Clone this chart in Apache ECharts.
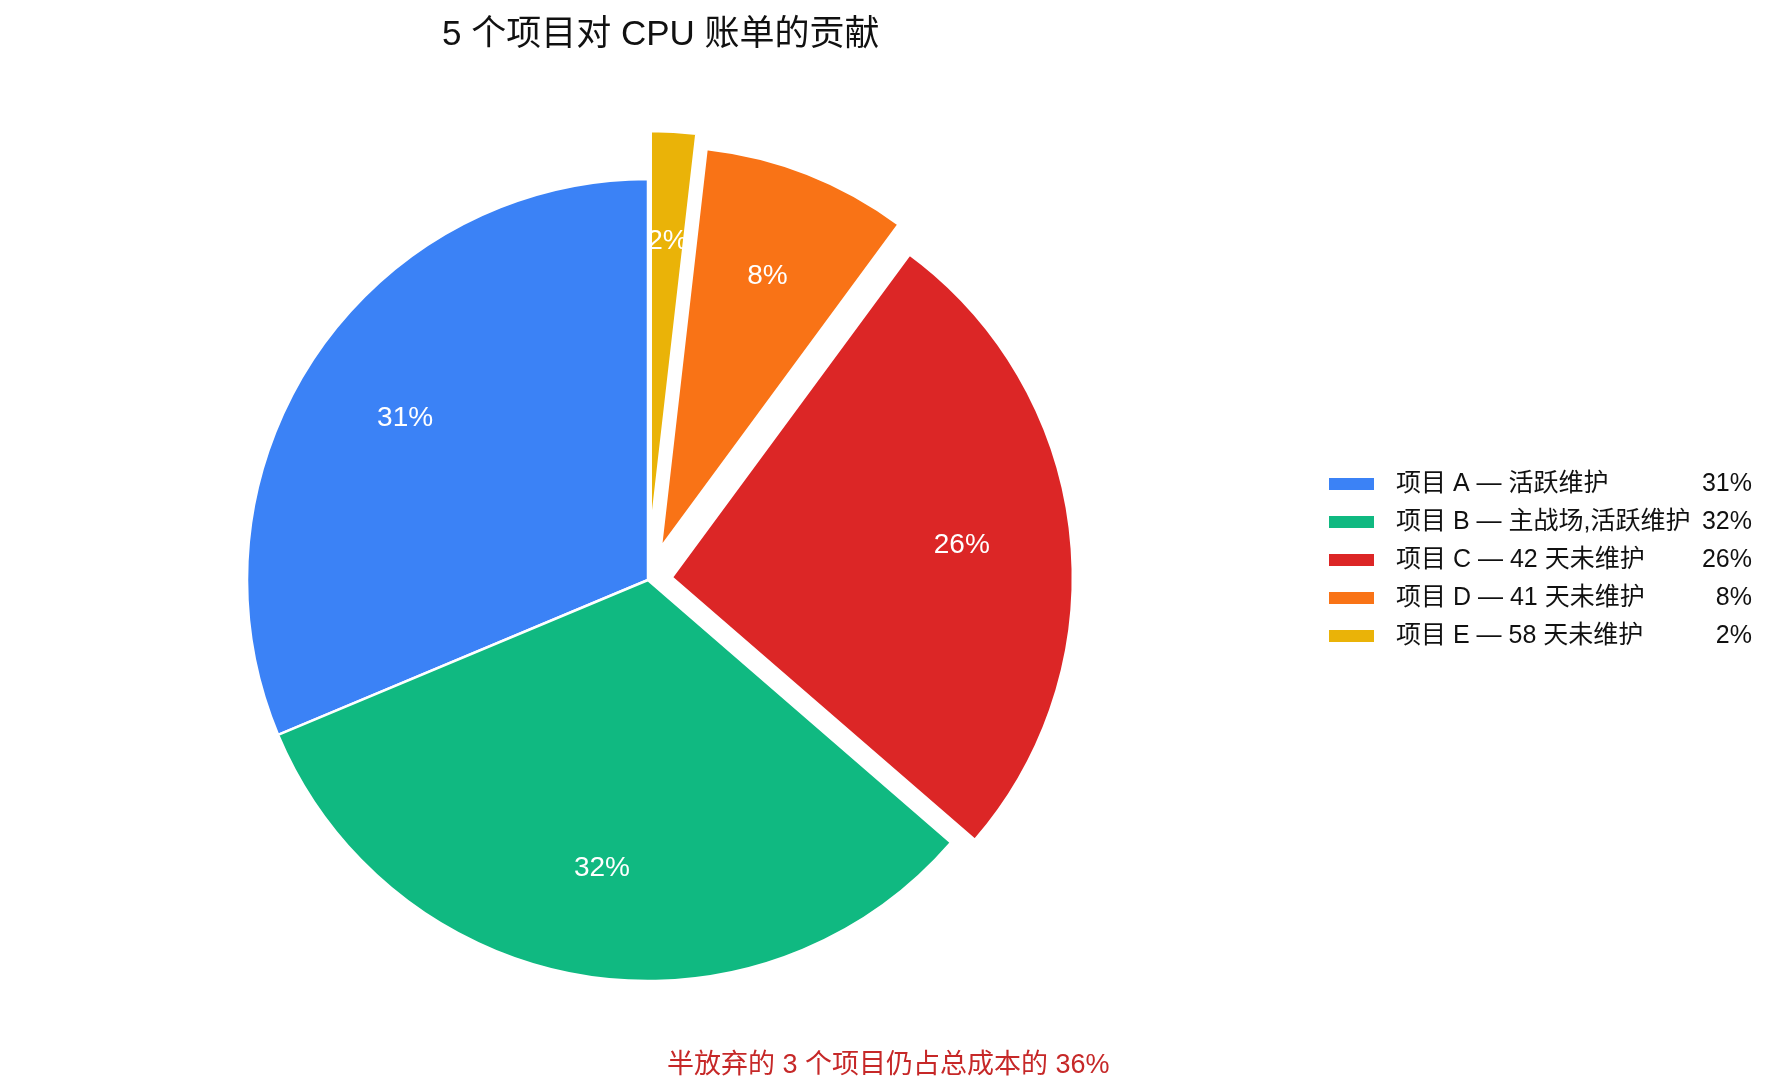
<!DOCTYPE html>
<html>
<head>
<meta charset="utf-8">
<title>5 个项目对 CPU 账单的贡献</title>
<script src="https://cdn.jsdelivr.net/npm/echarts@6/dist/echarts.min.js"></script>
<style>
html, body { margin: 0; padding: 0; background: #fff; }
#main { width: 1785px; height: 1091px; }
</style>
</head>
<body>
<div id="main"></div>
<script>
// 数据
var names = ['项目 A — 活跃维护', '项目 B — 主战场,活跃维护', '项目 C — 42 天未维护', '项目 D — 41 天未维护', '项目 E — 58 天未维护'];
var shares = [31, 32, 26, 8.2, 1.8];

// 样式
var colors = ['#3b82f6', '#10b981', '#dc2626', '#f97316', '#eab308'];
var pullOut = [0, 0, 24, 35, 48];   // 每块扇区拉出的距离 (px)
var font = "'Liberation Sans', 'Noto Sans CJK SC', sans-serif";
var center = [648, 580];
var R = 401;

function pct(v) { return Math.round(v) + '%'; }

var myChart = echarts.init(document.getElementById('main'));

// 每个拉出距离做一组: 一层扇区 + 一层只放标签的环
var groups = [];
pullOut.forEach(function (o) { if (groups.indexOf(o) < 0) groups.push(o); });

var series = [];
groups.forEach(function (off) {
    function inGroup(i) { return pullOut[i] === off; }
    var base = {
        type: 'pie',
        center: center,
        startAngle: 90,
        clockwise: false,
        selectedMode: 'multiple',
        selectedOffset: off,
        silent: true,
        animation: false,
        emphasis: { disabled: true },
        labelLine: { show: false }
    };
    series.push(Object.assign({}, base, {
        radius: [0, R],
        label: { show: false },
        data: names.map(function (n, i) {
            return {
                name: n,
                value: shares[i],
                selected: off > 0 && inGroup(i),
                itemStyle: inGroup(i)
                    ? { color: colors[i], borderColor: '#fff', borderWidth: 2.5 }
                    : { color: 'rgba(0,0,0,0)', borderWidth: 0 }
            };
        })
    }));
    series.push(Object.assign({}, base, {
        radius: [R * 0.44, R],
        itemStyle: { color: 'rgba(0,0,0,0)', borderWidth: 0 },
        label: {
            position: 'inside',
            color: '#fff',
            fontSize: 28,
            fontFamily: font,
            formatter: function (p) { return pct(p.value); }
        },
        data: names.map(function (n, i) {
            return {
                name: n,
                value: shares[i],
                selected: off > 0 && inGroup(i),
                label: { show: inGroup(i) }
            };
        })
    }));
});

var option = {
    backgroundColor: '#fff',
    title: [{
        text: '5 个项目对 CPU 账单的贡献',
        left: 437,
        top: 13,
        textStyle: { color: '#111', fontSize: 35, fontWeight: 'normal', fontFamily: font }
    }, {
        text: '半放弃的 3 个项目仍占总成本的 36%',
        left: 662,
        top: 1047,
        textStyle: { color: '#c62828', fontSize: 27, fontWeight: 'normal', fontFamily: font }
    }],
    legend: {
        orient: 'vertical',
        left: 1324,
        top: 465,
        icon: 'rect',
        itemWidth: 45,
        itemHeight: 12,
        itemGap: 10,
        selectedMode: false,
        itemStyle: { borderWidth: 0 },
        data: names.map(function (n, i) {
            return { name: n, itemStyle: { color: colors[i], borderWidth: 0 } };
        }),
        formatter: function (name) {
            var i = names.indexOf(name);
            return '{s|}{n|' + name + '}{v|' + pct(shares[i]) + '}';
        },
        textStyle: {
            color: '#111',
            fontSize: 25,
            lineHeight: 28,
            fontFamily: font,
            rich: {
                s: { width: 17 },
                n: { width: 310, fontSize: 25, lineHeight: 28, fontFamily: font, color: '#111' },
                v: { width: 46, align: 'right', fontSize: 25, lineHeight: 28, fontFamily: font, color: '#111' }
            }
        }
    },
    series: series
};

myChart.setOption(option);
</script>
</body>
</html>
